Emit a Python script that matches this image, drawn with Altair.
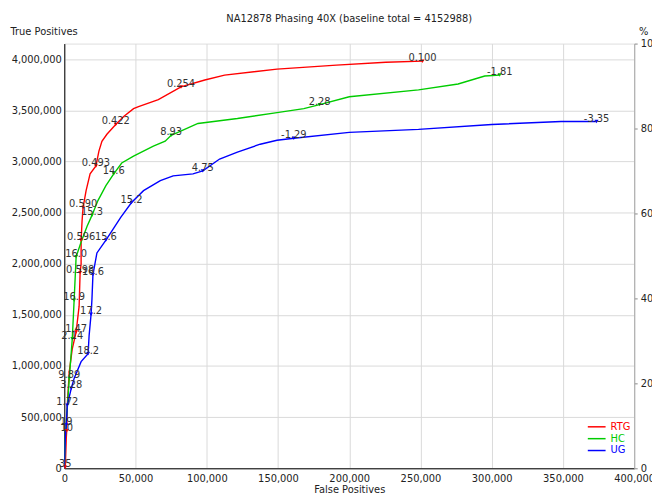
import altair as alt
import pandas as pd

series_names = ["RTG", "HC", "UG"]
series_colors = ["#ff0000", "#00cc00", "#0000ff"]
baseline_total = 4152988
chart_title = "NA12878 Phasing 40X (baseline total = 4152988)"

# RTG curve (false positives, true positives)
rtg_fp = [0, 700, 1400, 1700, 2100, 3500, 5600, 8300, 10400, 11100, 11800, 11800, 12500,
          13200, 15300, 18100, 22200, 24300, 26400, 29900, 36100, 41700, 48600, 52100,
          66000, 81900, 98600, 112500, 149300, 191000, 225700, 251400]
rtg_tp = [0, 10000, 300000, 367000, 618000, 947000, 1169000, 1333000, 1585000, 1913000,
          2000000, 2232000, 2425000, 2551000, 2715000, 2879000, 2956000, 3101000, 3198000,
          3266000, 3362000, 3440000, 3517000, 3536000, 3604000, 3729000, 3797000, 3845000,
          3903000, 3942000, 3971000, 3981000]

# HC curve
hc_fp = [0, 700, 2100, 3500, 5600, 6900, 8300, 11800, 16000, 19400, 23600, 29200, 34700,
         40300, 48600, 62500, 70800, 75000, 81300, 93800, 121500, 149300, 168100, 179200,
         200000, 248600, 276400, 295100, 305600]
hc_tp = [0, 300000, 589000, 879000, 1266000, 1643000, 2068000, 2213000, 2367000, 2473000,
         2618000, 2763000, 2879000, 2985000, 3053000, 3150000, 3198000, 3256000, 3295000,
         3372000, 3420000, 3478000, 3517000, 3556000, 3633000, 3700000, 3758000, 3836000,
         3845000]

# UG curve
ug_fp = [0, 700, 1400, 2100, 4900, 6900, 11800, 16700, 17400, 18800, 19400, 20100, 21500,
         22900, 29200, 34700, 39600, 47200, 55600, 67400, 76400, 90300, 97200, 109000,
         121500, 137500, 149300, 161100, 200000, 248600, 300000, 348600, 373600]
ug_tp = [0, 300000, 425000, 618000, 783000, 879000, 1043000, 1121000, 1295000, 1507000,
         1652000, 1894000, 2000000, 2106000, 2232000, 2348000, 2454000, 2599000, 2715000,
         2812000, 2860000, 2879000, 2908000, 3024000, 3092000, 3169000, 3208000, 3227000,
         3285000, 3314000, 3362000, 3391000, 3391000]

# threshold labels on the curves
rtg_lbl_fp = [251400, 81900, 36100, 22200, 13200, 11800, 11100, 8300, 1700, 700]
rtg_lbl_tp = [3981000, 3729000, 3362000, 2956000, 2551000, 2232000, 1913000, 1333000, 367000, 10000]
rtg_lbl_text = ["0.100", "0.254", "0.422", "0.493", "0.590", "0.596", "0.598", "1.47", "10", "35"]

hc_lbl_fp = [305600, 179200, 75000, 34700, 19400, 8300, 6900, 5600, 3500]
hc_lbl_tp = [3845000, 3556000, 3256000, 2879000, 2473000, 2068000, 1643000, 1266000, 879000]
hc_lbl_text = ["-1.81", "2.28", "8.93", "14.6", "15.3", "16.0", "16.9", "2.14", "9.89"]

ug_lbl_fp = [373600, 161100, 97200, 47200, 29200, 20100, 18800, 16700, 4900, 2100, 1400]
ug_lbl_tp = [3391000, 3227000, 2908000, 2599000, 2232000, 1894000, 1507000, 1121000, 783000, 618000, 425000]
ug_lbl_text = ["-3.35", "-1.29", "4.75", "15.2", "15.6", "16.6", "17.2", "18.2", "3.28", "1.72", "19"]

x_ticks = [0, 50000, 100000, 150000, 200000, 250000, 300000, 350000, 400000]
y_ticks = [0, 500000, 1000000, 1500000, 2000000, 2500000, 3000000, 3500000, 4000000]
pct_ticks = [0, 20, 40, 60, 80, 100]

FONT = "DejaVu Sans"

rows = []
for name, fps, tps in [("RTG", rtg_fp, rtg_tp), ("HC", hc_fp, hc_tp), ("UG", ug_fp, ug_tp)]:
    for i, (f, t) in enumerate(zip(fps, tps)):
        rows.append({"series": name, "i": i, "fp": f, "tp": t,
                     "pct": t / baseline_total * 100})
curve_df = pd.DataFrame(rows)

lrows = []
for name, fps, tps, txt in [("RTG", rtg_lbl_fp, rtg_lbl_tp, rtg_lbl_text),
                            ("HC", hc_lbl_fp, hc_lbl_tp, hc_lbl_text),
                            ("UG", ug_lbl_fp, ug_lbl_tp, ug_lbl_text)]:
    for f, t, s in zip(fps, tps, txt):
        lrows.append({"series": name, "fp": f, "tp": t, "label": s})
label_df = pd.DataFrame(lrows)

legend_df = pd.DataFrame({"series": series_names})

color_scale = alt.Scale(domain=series_names, range=series_colors)
x_scale = alt.Scale(domain=[0, 400000], nice=False)
y_scale = alt.Scale(domain=[0, baseline_total], nice=False)

x_axis = alt.Axis(values=x_ticks, format=",d", title="False Positives",
                  grid=True, gridColor="#d9d9d9", domainColor="#000000",
                  tickSize=0, labelPadding=5, labelFlush=False,
                  labelFontSize=10, labelColor="#222", labelFont=FONT,
                  titleFont=FONT, titleFontSize=10, titleFontWeight="normal",
                  titleColor="#222", titlePadding=2)
y_axis = alt.Axis(values=y_ticks, format=",d", title="True Positives",
                  grid=True, gridColor="#d9d9d9", domainColor="#000000",
                  tickSize=0, labelPadding=3, labelFontSize=10,
                  labelColor="#222", labelFont=FONT,
                  titleFont=FONT, titleFontSize=10, titleFontWeight="normal",
                  titleColor="#222", titleAngle=0, titleAlign="left",
                  titleBaseline="middle", titleX=-55, titleY=-12)

x_enc = alt.X("fp:Q", scale=x_scale, axis=x_axis)
y_enc = alt.Y("tp:Q", scale=y_scale, axis=y_axis)

lines = alt.Chart(curve_df).mark_line(strokeWidth=1.4, clip=True).encode(
    x=x_enc, y=y_enc,
    color=alt.Color("series:N", scale=color_scale, legend=None),
    order=alt.Order("i:Q"),
)

markers = alt.Chart(label_df).mark_point(shape="triangle-down", filled=True, size=16, opacity=1).encode(
    x=x_enc, y=y_enc,
    color=alt.Color("series:N", scale=color_scale, legend=None),
)

labels = alt.Chart(label_df).mark_text(fontSize=10, font=FONT, color="#333", dy=-3,
                                       align="center", baseline="middle").encode(
    x=x_enc, y=y_enc, text="label:N",
)

main = alt.layer(lines, markers, labels)

pct_layer = alt.Chart(curve_df).mark_line(opacity=0).encode(
    x=x_enc,
    y=alt.Y("pct:Q", scale=alt.Scale(domain=[0, 100], nice=False),
            axis=alt.Axis(orient="right", values=pct_ticks, title="%", grid=False,
                          domainColor="#aaaaaa", ticks=True, tickColor="#888888",
                          tickSize=3, labelPadding=3, labelFontSize=10, labelColor="#222",
                          labelFont=FONT, titleFont=FONT, titleFontSize=10,
                          titleFontWeight="normal", titleColor="#222", titleAngle=0,
                          titleAlign="center", titleBaseline="middle",
                          titleX=9, titleY=-12)),
    detail="series:N",
)

leg_y = alt.Y("series:N", scale=alt.Scale(type="point", domain=series_names,
                                          range=[388, 412], padding=0), axis=None)
legend_rules = alt.Chart(legend_df).mark_rule(strokeWidth=1.5).encode(
    x=alt.value(530), x2=alt.value(548), y=leg_y,
    color=alt.Color("series:N", scale=color_scale, legend=None),
)
legend_text = alt.Chart(legend_df).mark_text(align="left", baseline="middle",
                                             fontSize=10, font=FONT).encode(
    x=alt.value(553), y=leg_y, text="series:N",
    color=alt.Color("series:N", scale=color_scale, legend=None),
)
legend_layer = alt.layer(legend_rules, legend_text)

chart = alt.layer(main, pct_layer, legend_layer).resolve_scale(
    y="independent"
).properties(
    width=577, height=430,
    title=alt.TitleParams(chart_title, fontSize=10, fontWeight="normal", font=FONT,
                          color="#222", anchor="middle", offset=3),
    padding={"left": 57, "top": 33, "right": 18, "bottom": 23},
    autosize=alt.AutoSizeParams(type="none"),
).configure_view(stroke="#aaaaaa", strokeWidth=1).configure(background="white")

chart.save("out.html", embed_options={"renderer": "svg", "actions": False})
